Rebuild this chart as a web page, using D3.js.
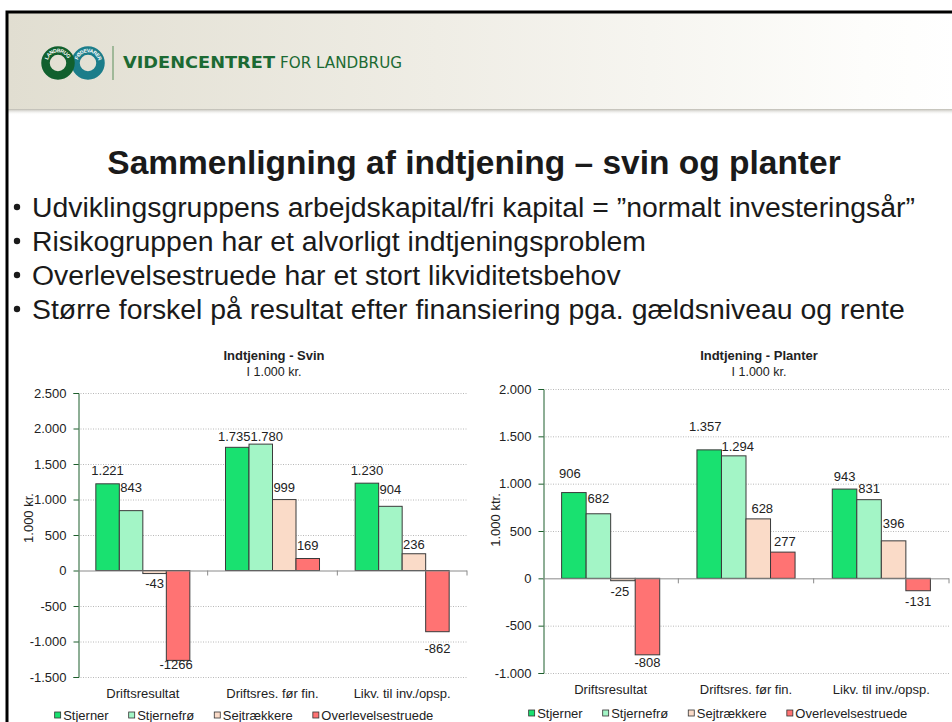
<!DOCTYPE html>
<meta charset="utf-8">
<style>
    body { margin: 0; background: #fff; }
    svg { display: block; font-family: "Liberation Sans", Arial, sans-serif; }
    .tick-label, .val, .cat, .leg, .ytitle { font-size: 13px; fill: #222; }
</style>
<body>
<script src="https://cdn.jsdelivr.net/npm/d3@7"></script>
<script>

// ---- data ----
var categories = ["Driftsresultat", "Driftsres. før fin.", "Likv. til inv./opsp."];
var groups = ["Stjerner", "Stjernefrø", "Sejtrækkere", "Overlevelsestruede"];
var groupColors = ["#19e170", "#a3f5c6", "#fadbc8", "#ff7373"];

var svinStjerner = [1221, 1735, 1230];
var svinStjernefro = [843, 1780, 904];
var svinSejtraekkere = [-43, 999, 236];
var svinOverlevelses = [-1266, 169, -862];
var svinTicks = [-1500, -1000, -500, 0, 500, 1000, 1500, 2000, 2500];

var planterStjerner = [906, 1357, 943];
var planterStjernefro = [682, 1294, 831];
var planterSejtraekkere = [-25, 628, 396];
var planterOverlevelses = [-808, 277, -131];
var planterTicks = [-1000, -500, 0, 500, 1000, 1500, 2000];

var bullets = [
  "Udviklingsgruppens arbejdskapital/fri kapital = \u201dnormalt investeringsår\u201d",
  "Risikogruppen har et alvorligt indtjeningsproblem",
  "Overlevelsestruede har et stort likviditetsbehov",
  "Større forskel på resultat efter finansiering pga. gældsniveau og rente"
];

// label nudges (px) where the original labels were dragged off the default spot
var svinNudge = [[0,-2],[-3,0],[0,-2], [0,-12],[6,3],[0,-6], [0,-1],[0,-1],[0,2], [-2,-7],[0,-2],[0,6]];
var planterNudge = [[-4,-8],[-4,-12],[0,-2], [0,-4],[4,2],[0,0], [-3,0],[4,1],[0,-6], [0,-3],[2,0],[0,0]];

var W = 952, H = 722;
var loc = d3.formatLocale({decimal: ",", thousands: ".", grouping: [3], currency: ["", " kr."], minus: "-"});
var fmtTick = loc.format(",.0f");
function fmtVal(v) { return v < 0 ? String(v) : fmtTick(v); }

var svg = d3.select("body").append("svg")
    .attr("width", W)
    .attr("height", H);

var defs = svg.append("defs");
var hg = defs.append("linearGradient").attr("id", "hdr").attr("x1", 0).attr("x2", 1).attr("y1", 0).attr("y2", 0);
hg.append("stop").attr("offset", "0").attr("stop-color", "#e1ded1");
hg.append("stop").attr("offset", "0.45").attr("stop-color", "#efede5");
hg.append("stop").attr("offset", "0.9").attr("stop-color", "#fdfdfb");
hg.append("stop").attr("offset", "1").attr("stop-color", "#ffffff");
var sg = defs.append("linearGradient").attr("id", "shd").attr("x1", 0).attr("x2", 0).attr("y1", 0).attr("y2", 1);
sg.append("stop").attr("offset", "0").attr("stop-color", "#bdbbb2");
sg.append("stop").attr("offset", "1").attr("stop-color", "#ffffff").attr("stop-opacity", 0);

// ---- header ----
svg.append("rect").attr("x", 8).attr("y", 13).attr("width", W).attr("height", 97).attr("fill", "url(#hdr)");
svg.append("rect").attr("x", 8).attr("y", 109).attr("width", W).attr("height", 6).attr("fill", "url(#shd)");

var logo = svg.append("g");
[{cx: 88, c: "#1b7d8a", t: "FØDEVARER"}, {cx: 58, c: "#11602e", t: "LANDBRUG"}].forEach(function(r, i) {
  logo.append("circle").attr("cx", r.cx).attr("cy", 63).attr("r", 12.5)
      .attr("fill", "none").attr("stroke", r.c).attr("stroke-width", 8.5);
  defs.append("path").attr("id", "ring" + i)
      .attr("d", "M" + (r.cx - 12.5) + ",63 a12.5,12.5 0 1,1 25,0 a12.5,12.5 0 1,1 -25,0");
  logo.append("text").attr("font-size", 5.2).attr("font-weight", "bold").attr("fill", "#fff").attr("dy", "0.35em")
    .append("textPath").attr("href", "#ring" + i).attr("startOffset", "5%").text(r.t);
});
svg.append("line").attr("x1", 113).attr("x2", 113).attr("y1", 46).attr("y2", 80)
    .attr("stroke", "#5c8f5c").attr("stroke-width", 1);
svg.append("text").attr("x", 123).attr("y", 68)
    .attr("font-family", "'Liberation Sans Narrow', 'DejaVu Sans Condensed', sans-serif")
    .attr("font-size", 16.5).attr("font-weight", "bold").attr("fill", "#1c6a33")
    .attr("textLength", 152).attr("lengthAdjust", "spacingAndGlyphs").text("VIDENCENTRET");
svg.append("text").attr("x", 280).attr("y", 68)
    .attr("font-family", "'Liberation Sans Narrow', 'DejaVu Sans Condensed', sans-serif")
    .attr("font-size", 16.5).attr("fill", "#1c6a33")
    .attr("textLength", 122).attr("lengthAdjust", "spacingAndGlyphs").text("FOR LANDBRUG");

// slide frame
svg.append("rect").attr("x", 7).attr("y", 12).attr("width", W + 20).attr("height", H + 20)
    .attr("fill", "none").attr("stroke", "#000").attr("stroke-width", 3);

// ---- title and bullets ----
svg.append("text").attr("x", 474).attr("y", 174).attr("text-anchor", "middle")
    .attr("font-size", 33.5).attr("font-weight", "bold").attr("fill", "#1a1a1a")
    .text("Sammenligning af indtjening – svin og planter");

var bl = svg.append("g").selectAll("g").data(bullets).enter().append("g")
    .attr("transform", function(d, i) { return "translate(0," + (207 + i * 34) + ")"; });
bl.append("circle").attr("cx", 17).attr("cy", 0).attr("r", 3.2).attr("fill", "#1a1a1a");
bl.append("text").attr("x", 32).attr("dy", "0.34em").attr("font-size", 28.4).attr("fill", "#1a1a1a")
    .text(function(d) { return d; });

// ---- charts ----
function drawChart(o) {
  var g = svg.append("g");
  var series = o.series;
  var y = d3.scaleLinear().domain(d3.extent(o.ticks)).range([o.bottom, o.top]);
  var x0 = d3.scaleBand().domain(categories).range([o.left, o.right]).paddingInner(0.275).paddingOuter(0.1375);
  var x1 = d3.scaleBand().domain(groups).range([0, x0.bandwidth()]);

  // gridlines
  g.selectAll(".grid").data(o.ticks.filter(function(t) { return t !== 0; })).enter().append("line")
      .attr("x1", o.left).attr("x2", o.right)
      .attr("y1", function(d) { return y(d) + 0.5; }).attr("y2", function(d) { return y(d) + 0.5; })
      .attr("stroke", "#b8b8b8").attr("stroke-width", 1).attr("stroke-dasharray", "1,1.5");

  // y axis
  var yAxis = g.append("g").attr("transform", "translate(" + (o.left + 0.5) + ",0)")
      .call(d3.axisLeft(y).tickValues(o.ticks).tickSize(5).tickPadding(7).tickFormat(fmtTick));
  yAxis.select(".domain").attr("stroke", "#1d5e2c");
  yAxis.selectAll(".tick line").attr("stroke", "#1d5e2c");
  yAxis.selectAll(".tick text").attr("class", "tick-label").attr("font-family", null).attr("font-size", null);

  // bars
  var flat = [];
  groups.forEach(function(gr, gi) {
    series[gi].forEach(function(v, ci) { flat.push({g: gr, gi: gi, c: categories[ci], v: v, k: gi * 3 + ci}); });
  });
  g.selectAll(".bar").data(flat).enter().append("rect")
      .attr("x", function(d) { return x0(d.c) + x1(d.g); })
      .attr("y", function(d) { return y(Math.max(0, d.v)); })
      .attr("width", x1.bandwidth())
      .attr("height", function(d) { return Math.abs(y(d.v) - y(0)); })
      .attr("fill", function(d) { return groupColors[d.gi]; })
      .attr("stroke", "#3a3a3a").attr("stroke-width", 1);

  // zero line + category ticks
  g.append("line").attr("x1", o.left).attr("x2", o.right).attr("y1", y(0) + 0.5).attr("y2", y(0) + 0.5)
      .attr("stroke", "#8a8a8a");
  var edges = categories.map(function(c) { return x0(c) - x0.step() * 0.1375; }).concat([o.right]);
  g.selectAll(".ctick").data(edges.slice(1)).enter().append("line")
      .attr("x1", function(d) { return d; }).attr("x2", function(d) { return d; })
      .attr("y1", y(0)).attr("y2", y(0) + 5).attr("stroke", "#8a8a8a");

  // value labels
  g.selectAll(".val").data(flat).enter().append("text").attr("class", "val")
      .attr("text-anchor", "middle").attr("dy", "0.35em")
      .attr("x", function(d) { return x0(d.c) + x1(d.g) + x1.bandwidth() / 2 + o.nudge[d.k][0]; })
      .attr("y", function(d) { return (d.v >= 0 ? y(d.v) - 11 : y(d.v) + 11) + o.nudge[d.k][1]; })
      .text(function(d) { return fmtVal(d.v); });

  // category labels
  g.selectAll(".cat").data(categories).enter().append("text").attr("class", "cat")
      .attr("text-anchor", "middle").attr("dy", "0.35em")
      .attr("x", function(d) { return x0(d) + x0.bandwidth() / 2; })
      .attr("y", o.catY).text(function(d) { return d; });

  // titles
  g.append("text").attr("x", o.titleX).attr("y", 355).attr("dy", "0.35em").attr("text-anchor", "middle")
      .attr("font-size", 13).attr("font-weight", "bold").attr("fill", "#222").text(o.title);
  g.append("text").attr("x", o.titleX).attr("y", 372).attr("dy", "0.35em").attr("text-anchor", "middle")
      .attr("font-size", 12.5).attr("fill", "#222").text("I 1.000 kr.");
  g.append("text").attr("class", "ytitle").attr("text-anchor", "middle").attr("dy", "0.35em")
      .attr("transform", "translate(" + o.yTitle[0] + "," + o.yTitle[1] + ") rotate(-90)")
      .text(o.yLabel);

  // legend
  var leg = g.append("g");
  var items = leg.selectAll("g").data(groups).enter().append("g");
  items.append("rect").attr("width", 6).attr("height", 6).attr("y", -3)
      .attr("fill", function(d, i) { return groupColors[i]; }).attr("stroke", "#333").attr("stroke-width", 0.8);
  items.append("text").attr("class", "leg").attr("x", 8.5).attr("dy", "0.35em").text(function(d) { return d; });
  var pos = 0, xs = [];
  items.each(function() {
    xs.push(pos);
    pos += 8.5 + d3.select(this).select("text").node().getComputedTextLength() + 20;
  });
  pos -= 20;
  items.attr("transform", function(d, i) { return "translate(" + (o.legendX - pos / 2 + xs[i]) + "," + o.legendY + ")"; });
}

drawChart({
  title: "Indtjening - Svin", titleX: 274, yLabel: "1.000 kr.", yTitle: [28, 518],
  series: [svinStjerner, svinStjernefro, svinSejtraekkere, svinOverlevelses],
  ticks: svinTicks, nudge: svinNudge,
  left: 78, right: 467, top: 393, bottom: 677, catY: 693, legendX: 244, legendY: 715
});
drawChart({
  title: "Indtjening - Planter", titleX: 759, yLabel: "1.000 ktr.", yTitle: [495, 520],
  series: [planterStjerner, planterStjernefro, planterSejtraekkere, planterOverlevelses],
  ticks: planterTicks, nudge: planterNudge,
  left: 543, right: 949, top: 389, bottom: 673, catY: 689, legendX: 718, legendY: 713
});

</script>
</body>
